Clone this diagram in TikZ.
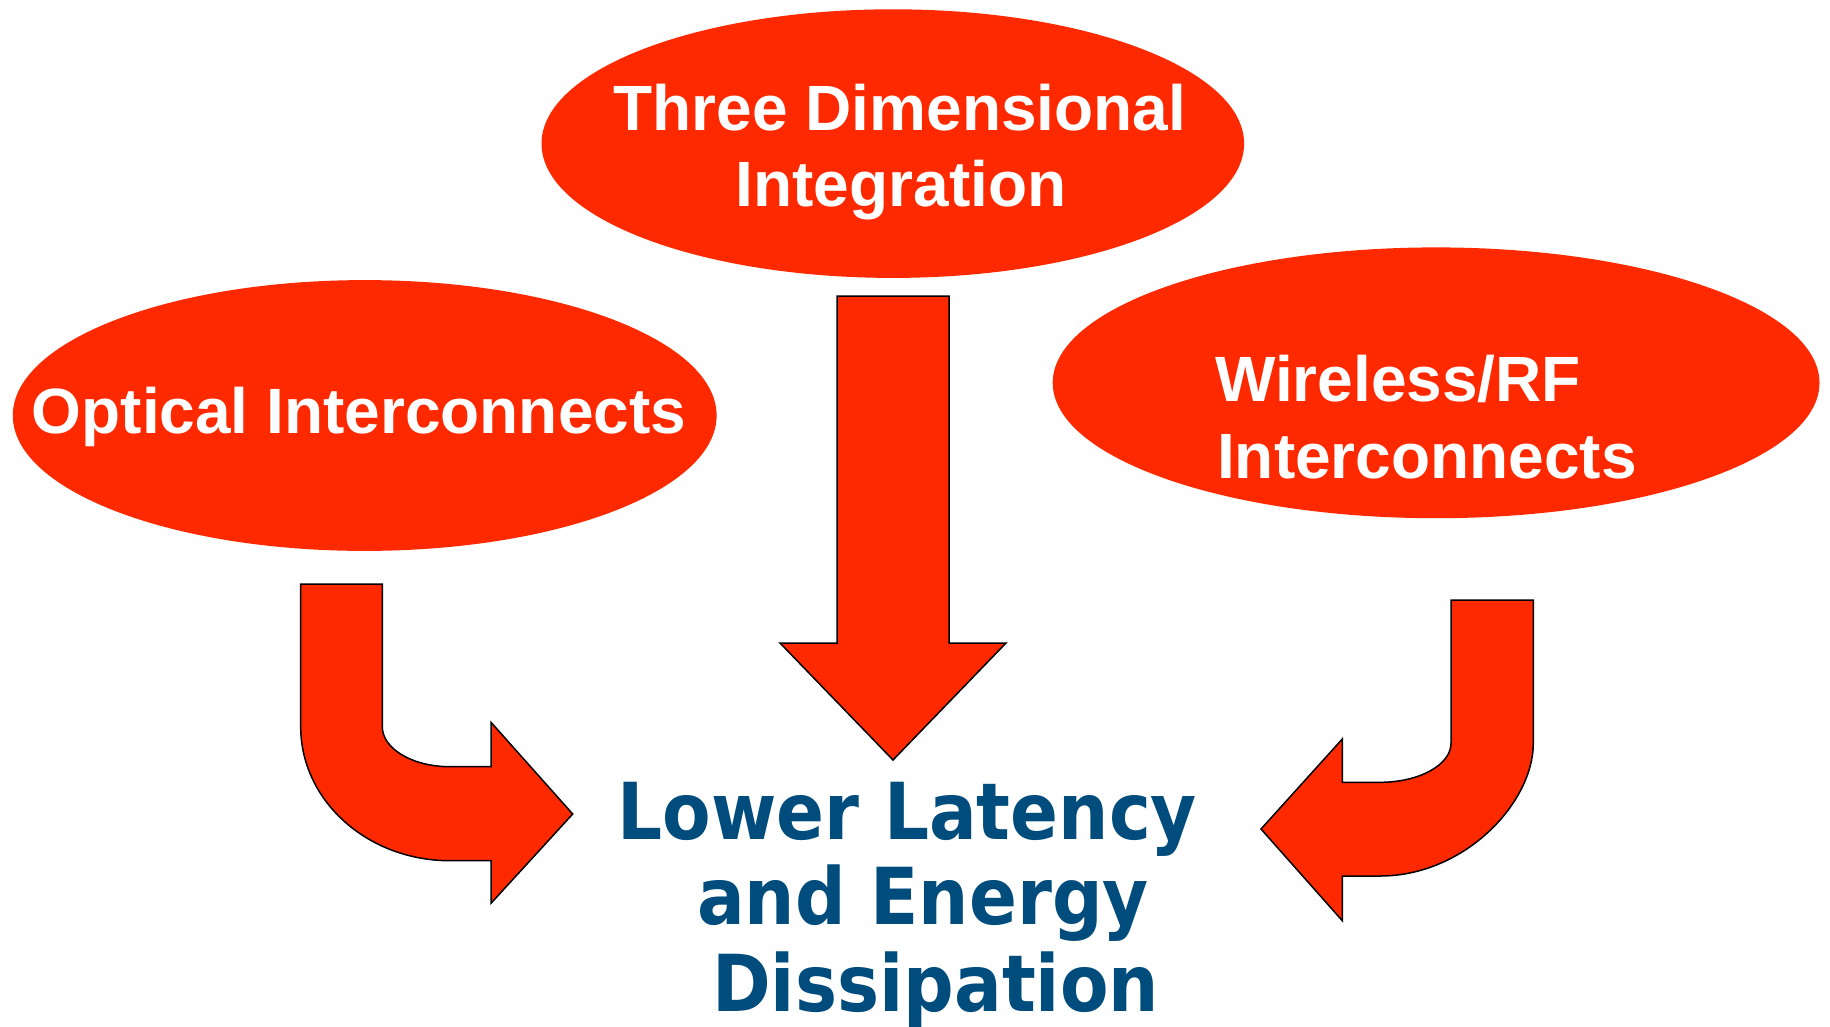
\documentclass[tikz,border=0pt]{standalone}
\usepackage{fontspec}
\usetikzlibrary{shapes.geometric}
\newfontfamily\arialfont{Liberation Sans}
\newfontfamily\lucfont{DejaVu Sans Condensed}
\definecolor{ovalred}{RGB}{255,41,0}
\definecolor{resblue}{RGB}{0,76,124}
\tikzset{
  oval/.style={ellipse, fill=ovalred, draw=none, inner sep=0pt},
  ovaltext/.style={text=white, inner sep=0pt, anchor=base,
    font=\arialfont\bfseries\fontsize{64}{77}\selectfont},
  resulttext/.style={text=resblue, inner sep=0pt, anchor=base,
    font=\lucfont\bfseries\fontsize{78.6}{86}\selectfont},
  blockarrow/.style={fill=ovalred, draw=black, line width=1.5pt, line join=miter}
}
\begin{document}
\begin{tikzpicture}[x=1pt,y=-1pt]
\fill[white] (0,0) rectangle (1830,1026);
\useasboundingbox (0,0) rectangle (1830,1026);

% ovals
\node[oval, minimum width=702.6pt, minimum height=268.6pt] (threed) at (892.8,143.6) {};
\node[oval, minimum width=703.8pt, minimum height=270.8pt] (optical) at (364.7,415.5) {};
\node[oval, minimum width=766.8pt, minimum height=270.8pt] (wireless) at (1436.1,382.8) {};

% oval labels
\node[ovaltext] (t1a) at (900,130) {Three Dimensional};
\node[ovaltext] (t1b) at (901,206.7) {Integration};
\node[ovaltext] (t2) at (359,433.3) {Optical Interconnects};
\node[ovaltext] (t3a) at (1398,401.7) {Wireless/RF};
\node[ovaltext] (t3b) at (1427,478.3) {Interconnects};

% straight arrow
\draw[blockarrow] (837,296) -- (949,296) -- (949,643) -- (1006,643) -- (893,760)
  -- (780,643) -- (837,643) -- cycle;

% left bent arrow
\draw[blockarrow] (300.7,584) -- (382.3,584) -- (382.3,726.7)
  .. controls (382.3,748.8) and (412.6,766.7) .. (450,766.7)
  -- (491,766.7) -- (491,722.3) -- (572.7,814) -- (491,903.3) -- (491,860.7)
  -- (450,860.7)
  .. controls (367.5,860.7) and (300.7,800.7) .. (300.7,726.7)
  -- cycle;

% right bent arrow
\draw[blockarrow] (1533.3,600) -- (1451,600) -- (1451,743.3)
  .. controls (1451,764.8) and (1419.2,782.3) .. (1380,782.3)
  -- (1342.3,782.3) -- (1342.3,739) -- (1261,829) -- (1342.3,920.7) -- (1342.3,876)
  -- (1380,876)
  .. controls (1464.7,876) and (1533.3,802.7) .. (1533.3,743.3)
  -- cycle;

% result text
\node[resulttext] (r1) at (907.5,839) {Lower Latency};
\node[resulttext] (r2) at (923,924) {and Energy};
\node[resulttext] (r3) at (935.6,1011.7) {Dissipation};
\end{tikzpicture}
\end{document}
